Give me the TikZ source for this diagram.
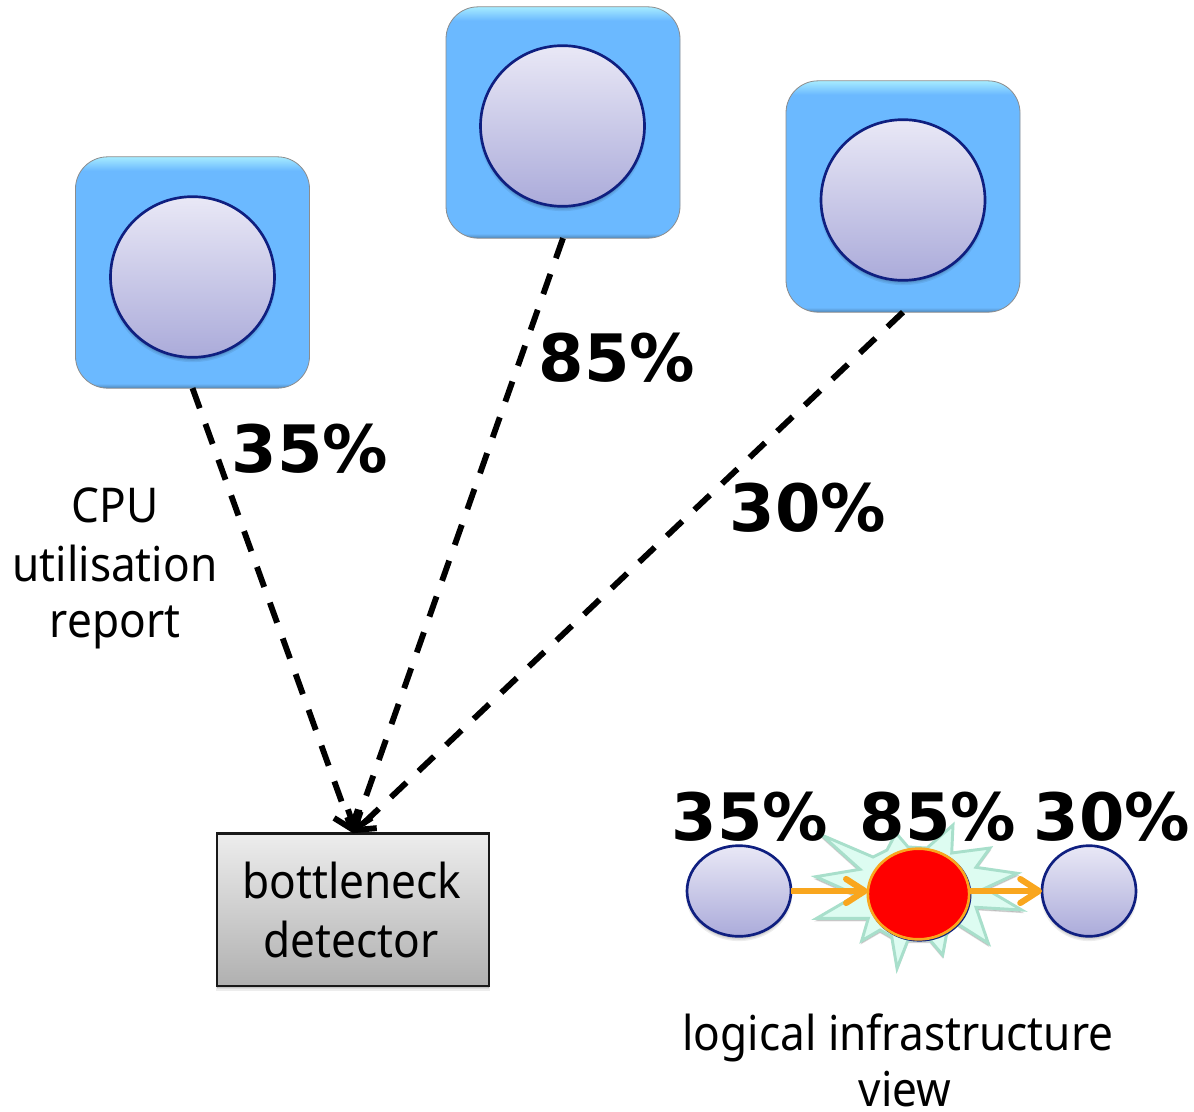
\documentclass[tikz,border=0pt]{standalone}
\usepackage{fontspec}
\setmainfont{Noto Sans}[FakeStretch=0.92]
\newfontfamily\pctfont{DejaVu Sans}[BoldFont={DejaVu Sans Bold}]
\usetikzlibrary{arrows.meta,shapes.geometric,shadows}
\definecolor{tileblue}{HTML}{6BB9FF}
\definecolor{tiletop}{HTML}{A6EBFF}
\definecolor{tilebot}{HTML}{4F86B8}
\definecolor{nodeline}{HTML}{0F1F80}
\definecolor{nodetop}{HTML}{E9E8F6}
\definecolor{nodebot}{HTML}{ABABDA}
\definecolor{burstfill}{HTML}{DDFCF1}
\definecolor{burstline}{HTML}{A8DFCB}
\definecolor{flow}{HTML}{F9A61E}
\pgfdeclareverticalshading{tilebevel}{100bp}{color(0bp)=(tilebot); color(25bp)=(tilebot); color(26bp)=(tileblue); color(72bp)=(tileblue); color(75bp)=(tiletop); color(100bp)=(tiletop)}
\tikzset{
  softshadow/.style={
    general shadow={shadow yshift=-2.6pt,fill=black,draw=black,line width=2pt,opacity=.07},
    general shadow={shadow yshift=-1.6pt,fill=black,opacity=.16}},
  tile/.style={rectangle,rounded corners=24pt,minimum width=175.5pt,minimum height=173.5pt,inner sep=0pt,outer sep=0pt,shading=tilebevel,draw=black!45,line width=.6pt},
  vm/.style={ellipse,inner sep=0pt,outer sep=0pt,minimum width=123pt,minimum height=120.5pt,draw=nodeline,line width=2pt,top color=nodetop,bottom color=nodebot,softshadow},
  smallvm/.style={ellipse,inner sep=0pt,outer sep=0pt,minimum height=68pt,draw=nodeline,line width=2pt,top color=nodetop,bottom color=nodebot,softshadow},
  report/.style={draw=black,line width=4.4pt,dash pattern=on 16pt off 12.5pt,-{Straight Barb[length=12pt,width=19pt,line width=4.4pt]}},
  flowline/.style={draw=flow,line width=4.6pt,-{Straight Barb[length=14pt,width=18pt,line width=4.6pt,round]}},
  pct/.style={anchor=base,inner sep=0pt,font=\pctfont\bfseries\fontsize{49}{58}\selectfont},
  body/.style={anchor=base,inner sep=0pt,font=\fontsize{36}{44}\selectfont},
}
\begin{document}
\begin{tikzpicture}[x=.75pt,y=-.75pt]
\useasboundingbox (0,0) rectangle (1194,1112);
% tiles
\node[tile] (t1) at (192.5,272.5) {};
\node[tile] (t2) at (563,122.5) {};
\node[tile] (t3) at (903,196.5) {};
\node[vm] (v1) at (192.5,277) {};
\node[vm] (v2) at (562.5,126) {};
\node[vm] (v3) at (903,200) {};
% detector
\node[rectangle,minimum width=204pt,minimum height=114.5pt,inner sep=0pt,outer sep=0pt,draw=black!90,line width=2pt,top color=black!7,bottom color=black!31,softshadow] (det) at (353,909.5) {};
\node[body] (det1) at (352,898) {bottleneck};
\node[body] (det2) at (351,957) {detector};
% connectors
\draw[report] (t1.south) -- (det.north);
\draw[report] (t2.south) -- (det.north);
\draw[report] (t3.south) -- (det.north);
% labels
\node[pct] (p1) at (310,472) {35\%};
\node[pct] (p2) at (617,381) {85\%};
\node[pct] (p3) at (808,531) {30\%};
\node[body] (cpu1) at (115,522) {CPU};
\node[body] (cpu2) at (115,581) {utilisation};
\node[body] (cpu3) at (115,637) {report};
% logical view
\node[smallvm,minimum width=78pt] (l1) at (739,891) {};
\node[smallvm,minimum width=70.5pt] (l3) at (1089,891) {};
\draw[draw=burstline,fill=burstfill,line width=2.2pt,line join=miter,general shadow={shadow yshift=-1.8pt,fill=black,draw=black,line width=1pt,opacity=.14}]
  (821.7,835) -- (873,857) -- (887,850) -- (896,833) -- (908,847) -- (927,848) -- (953,825) -- (951.7,853) -- (990,848) -- (976,867.3) -- (1017.3,873.3) -- (985,888.3) -- (1021.7,910) -- (976,907.3) -- (988.3,943.3) -- (956.7,923.3) -- (946.7,933.3) -- (942.7,955) -- (930,940) -- (908,940) -- (897,968.3) -- (891.7,936.7) -- (880,930) -- (861.7,940.7) -- (868.3,918.3) -- (816.7,918.3) -- (856.7,895) -- (815.7,876.7) -- (860,869.3) -- cycle;
\node[ellipse,inner sep=0pt,outer sep=0pt,minimum width=76pt,minimum height=68pt,draw=flow,line width=2pt,fill=red,general shadow={shadow xshift=.7pt,shadow yshift=-.7pt,fill=nodeline,draw=nodeline,line width=2pt}] (l2) at (918.5,894) {};
\draw[flowline] (l1.east) -- (l1.east -| l2.west);
\draw[flowline] (l2.east |- l3.west) -- (l3.west);
\node[pct] (q1) at (750,840) {35\%};
\node[pct] (q2) at (938,840) {85\%};
\node[pct] (q3) at (1112,840) {30\%};
\node[body] (log1) at (898,1050) {logical infrastructure};
\node[body] (log2) at (905,1106) {view};
\end{tikzpicture}
\end{document}
